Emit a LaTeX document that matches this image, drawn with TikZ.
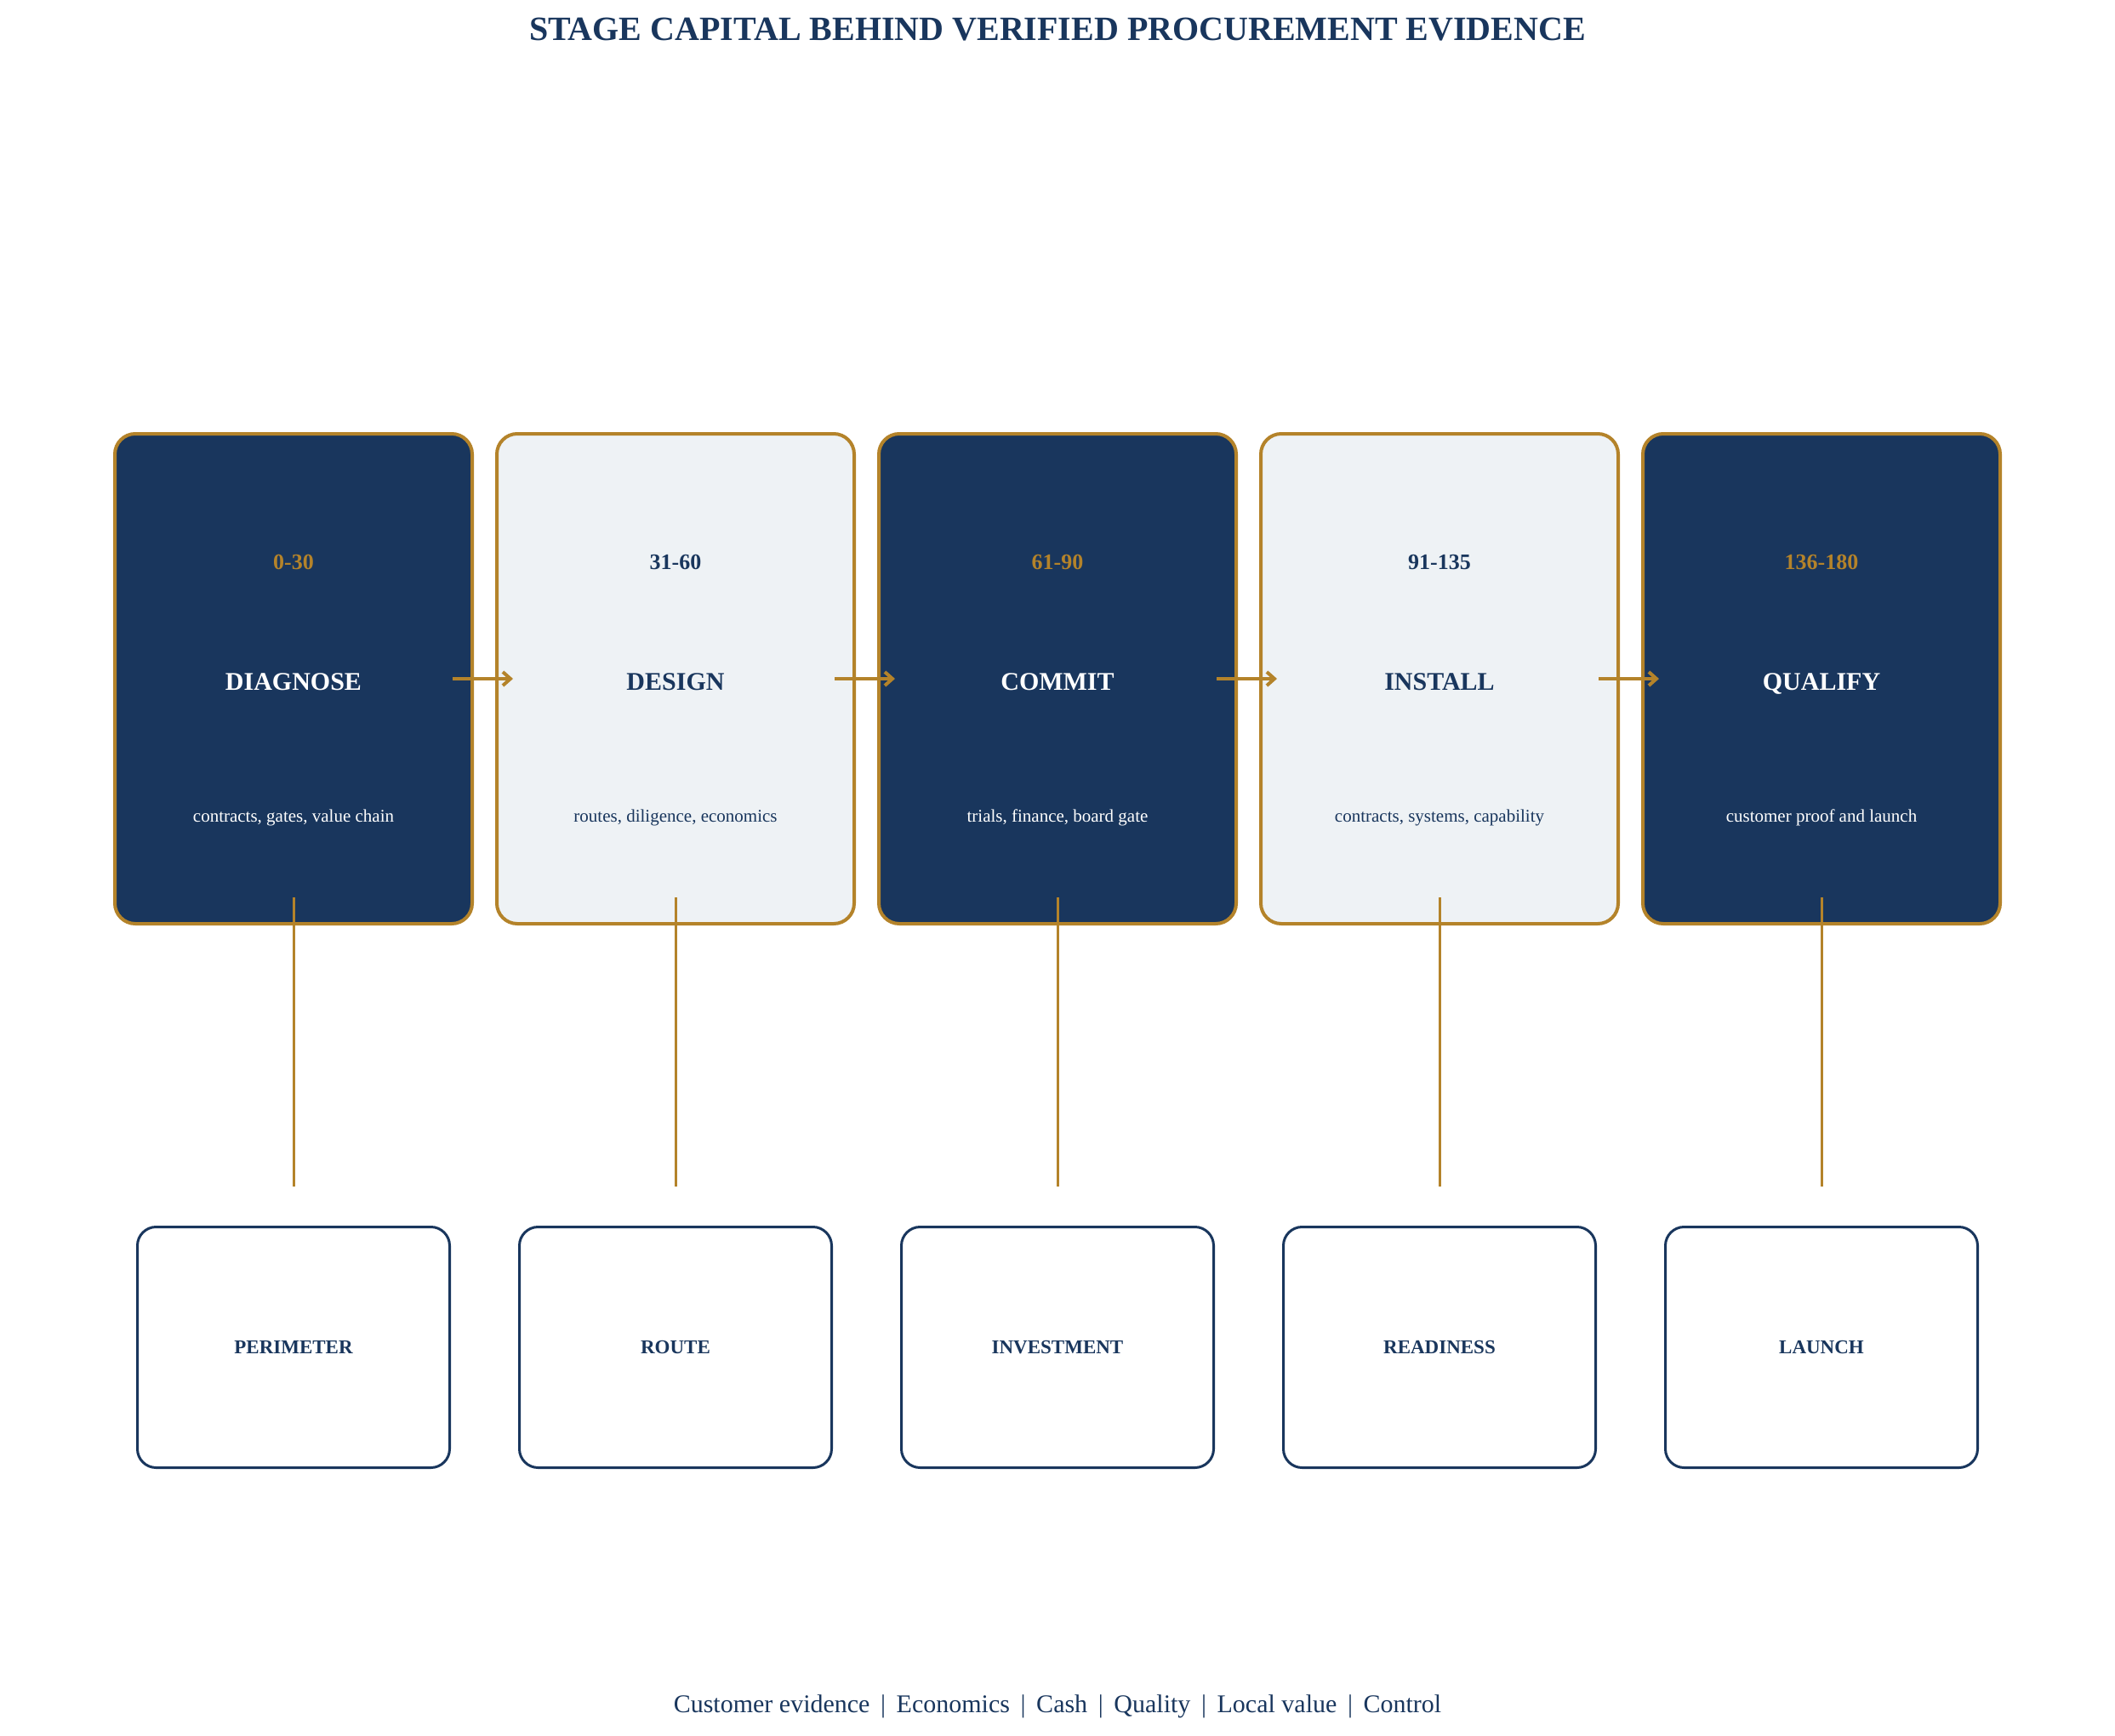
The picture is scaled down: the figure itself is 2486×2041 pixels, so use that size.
\documentclass[tikz,border=0pt]{standalone}
\usepackage{fontspec}
\setmainfont{Liberation Serif}
\usetikzlibrary{arrows.meta}
\definecolor{navy}{HTML}{19365D}
\definecolor{gold}{HTML}{B4832A}
\definecolor{pale}{HTML}{EEF2F5}
\newcommand\footsep{\hspace{0.42em}|\hspace{0.42em}}
\begin{document}
\begin{tikzpicture}[x=1pt,y=-1pt,
  stage/.style={draw=gold, line width=4pt, rounded corners=24pt, minimum width=420pt, minimum height=576pt, inner sep=0pt, outer sep=0pt},
  outcome/.style={draw=navy, line width=3pt, rounded corners=22pt, fill=white, minimum width=367pt, minimum height=283pt, inner sep=0pt, outer sep=0pt},
  flow/.style={draw=gold, line width=4pt, -{Straight Barb[length=9pt,width=16pt]}},
  link/.style={draw=gold, line width=3pt},
  num/.style={anchor=base, inner sep=0pt, font=\fontsize{26}{30}\selectfont\bfseries},
  ttl/.style={anchor=base, inner sep=0pt, font=\fontsize{30}{36}\selectfont\bfseries},
  desc/.style={anchor=base, inner sep=0pt, font=\fontsize{21}{25}\selectfont},
  olab/.style={anchor=base, inner sep=0pt, text=navy, font=\fontsize{23}{27}\selectfont\bfseries},
]
\useasboundingbox (0,0) rectangle (2486,2041);
\node[anchor=base, inner sep=0pt, text=navy, font=\fontsize{40}{48}\selectfont\bfseries] (title) at (1243,48) {STAGE CAPITAL BEHIND VERIFIED PROCUREMENT EVIDENCE};
\foreach \i/\x/\fc/\nc/\tc/\rng/\name/\txt/\out in {
  1/345/navy/gold/white/0-30/DIAGNOSE/{contracts, gates, value chain}/PERIMETER,
  2/794/pale/navy/navy/31-60/DESIGN/{routes, diligence, economics}/ROUTE,
  3/1243/navy/gold/white/61-90/COMMIT/{trials, finance, board gate}/INVESTMENT,
  4/1692/pale/navy/navy/91-135/INSTALL/{contracts, systems, capability}/READINESS,
  5/2141/navy/gold/white/136-180/QUALIFY/{customer proof and launch}/LAUNCH}
{
  \node[stage, fill=\fc] (s\i) at (\x,798) {};
  \node[num, text=\nc] (n\i) at (\x,669) {\rng};
  \node[ttl, text=\tc] (t\i) at (\x,811) {\name};
  \node[desc, text=\tc] (d\i) at (\x,966) {\txt};
  \node[outcome] (o\i) at (\x,1584) {};
  \node[olab] (l\i) at (\x,1591) {\out};
}
\foreach \a/\b in {1/2,2/3,3/4,4/5}
  \draw[flow] ([xshift=-23pt]s\a.east) -- ([xshift=19pt]s\b.west);
\foreach \i in {1,...,5}
  \draw[link] ([yshift=31pt]s\i.south) -- ([yshift=48pt]o\i.north);
\node[anchor=base, inner sep=0pt, text=navy, font=\fontsize{30}{35}\selectfont] (footer) at (1243,2013) {Customer evidence\footsep Economics\footsep Cash\footsep Quality\footsep Local value\footsep Control};
\end{tikzpicture}
\end{document}
